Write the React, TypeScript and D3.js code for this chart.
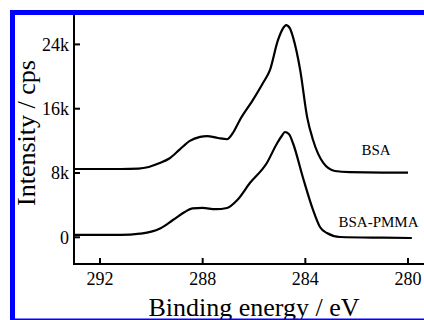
import React from "react";
import * as d3 from "d3";

const bsaEnergy = [293.0, 291.2, 290.5, 290.1, 289.7, 289.3, 288.9, 288.5, 288.1, 287.83, 287.4, 287.05, 286.8, 286.55, 286.04, 285.65, 285.38, 285.07, 284.87, 284.75, 284.6, 284.48, 284.2, 283.93, 283.7, 283.3, 282.85, 282.26, 281.0, 280.0];
const bsaCounts = [8.5, 8.5, 8.55, 8.75, 9.2, 9.8, 10.9, 12.0, 12.5, 12.6, 12.35, 12.2, 13.1, 14.6, 17.1, 19.2, 20.8, 24.5, 26.0, 26.4, 26.0, 24.9, 20.8, 14.95, 12.1, 9.25, 8.25, 8.1, 8.05, 8.05];

const pmmaEnergy = [293.0, 291.2, 290.44, 290.0, 289.66, 289.16, 288.7, 288.4, 288.0, 287.5, 287.05, 286.66, 286.16, 285.5, 285.1, 284.9, 284.8, 284.64, 284.48, 284.1, 283.7, 283.43, 283.16, 282.65, 281.0, 279.85];
const pmmaCounts = [0.29, 0.29, 0.45, 0.7, 1.1, 2.15, 3.15, 3.6, 3.65, 3.5, 3.65, 4.6, 6.75, 9.25, 11.7, 12.7, 13.1, 12.85, 11.7, 7.5, 3.4, 1.28, 0.53, 0.04, -0.05, -0.09];

const xTicks = [292, 288, 284, 280];
const yTicks = [0, 8000, 16000, 24000];
const yTickLabels = ["0", "8k", "16k", "24k"];
const seriesLabels = ["BSA", "BSA-PMMA"];

export default function App() {
  const W = 424, H = 320;
  const x = d3.scaleLinear().domain([292, 280]).range([100, 408]);
  const y = d3.scaleLinear().domain([0, 24000]).range([237.3, 44.4]);
  const axisX = 74, axisY = 264;
  const line = d3
    .line<[number, number]>()
    .x((d) => x(d[0]))
    .y((d) => y(d[1] * 1000))
    .curve(d3.curveMonotoneX);
  const bsa = bsaEnergy.map((e, i) => [e, bsaCounts[i]] as [number, number]);
  const pmma = pmmaEnergy.map((e, i) => [e, pmmaCounts[i]] as [number, number]);
  const font = "'Liberation Serif', 'DejaVu Serif', serif";
  return (
    <svg width={W} height={H} style={{ position: "absolute", left: 0, top: 0, background: "#fff" }} fontFamily={font}>
      <rect x={0} y={0} width={W} height={H} fill="#fff" />
      <path d={line(bsa) || ""} fill="none" stroke="#000" strokeWidth={2.2} strokeLinejoin="round" />
      <path d={line(pmma) || ""} fill="none" stroke="#000" strokeWidth={2.2} strokeLinejoin="round" />
      <line x1={axisX} x2={axisX} y1={15} y2={axisY + 1} stroke="#000" strokeWidth={2} />
      <line x1={axisX - 1} x2={W} y1={axisY} y2={axisY} stroke="#000" strokeWidth={2} />
      {xTicks.map((t) => (
        <g key={t}>
          <line x1={x(t)} x2={x(t)} y1={axisY} y2={axisY - 6} stroke="#000" strokeWidth={2} />
          <text x={x(t)} y={285} textAnchor="middle" fontSize={18} fill="#000">
            {t}
          </text>
        </g>
      ))}
      {yTicks.map((t, i) => (
        <g key={t}>
          <line x1={axisX} x2={axisX + 6} y1={y(t)} y2={y(t)} stroke="#000" strokeWidth={2} />
          <text x={69} y={y(t) + 6.3} textAnchor="end" fontSize={18} fill="#000">
            {yTickLabels[i]}
          </text>
        </g>
      ))}
      <text x={376} y={155} textAnchor="middle" fontSize={15} fill="#000">
        {seriesLabels[0]}
      </text>
      <text x={378.5} y={227} textAnchor="middle" fontSize={15} fill="#000">
        {seriesLabels[1]}
      </text>
      <text transform="translate(35,133) rotate(-90)" textAnchor="middle" fontSize={26} fill="#000">
        Intensity / cps
      </text>
      <text x={254} y={316} textAnchor="middle" fontSize={26} fill="#000">
        Binding energy / eV
      </text>
      <rect x={10} y={10} width={5} height={H - 10} fill="#0000ff" />
      <rect x={10} y={10} width={W - 10} height={5} fill="#0000ff" />
      <rect x={10} y={318.5} width={W - 10} height={1.5} fill="#0000ff" />
    </svg>
  );
}
